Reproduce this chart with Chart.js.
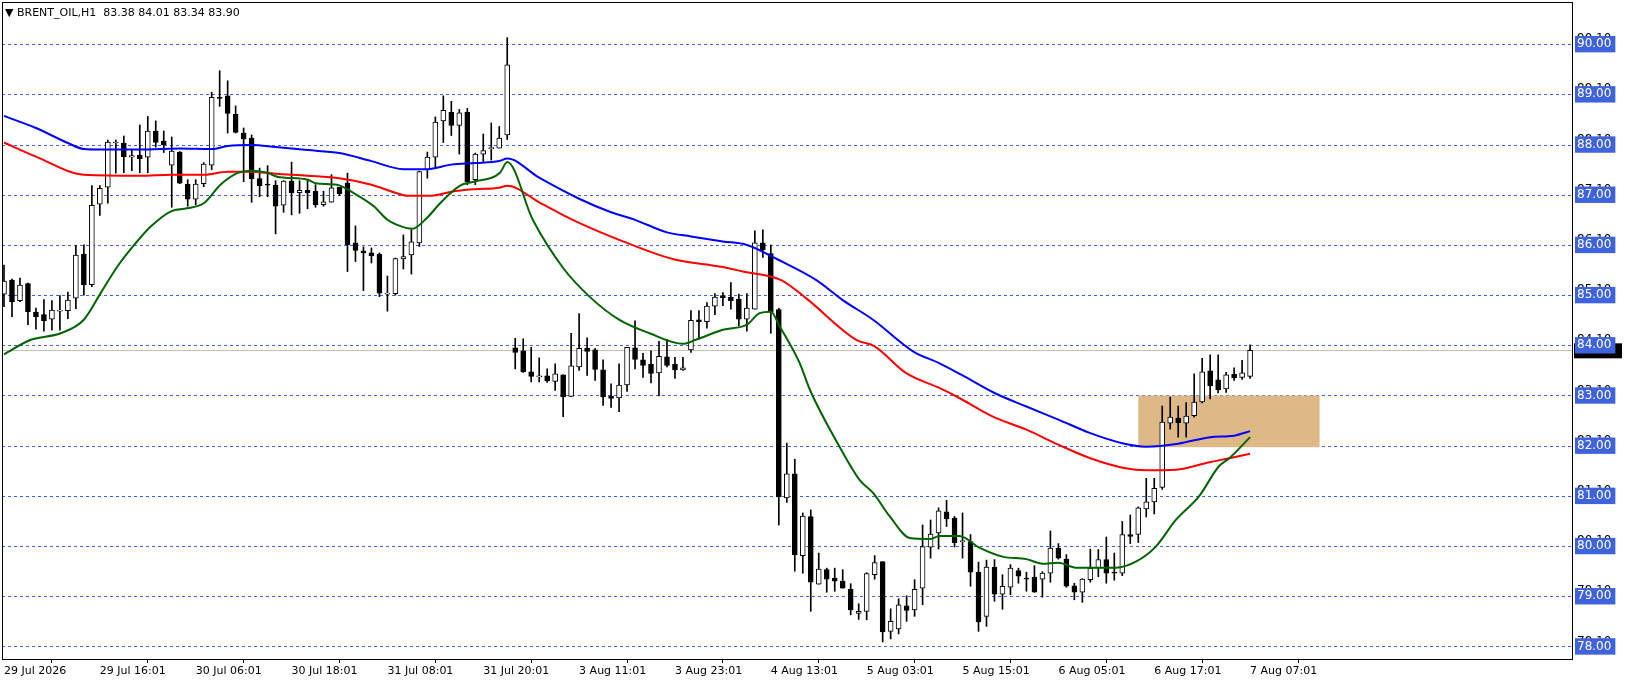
<!DOCTYPE html>
<html><head><meta charset="utf-8">
<script src="https://cdn.jsdelivr.net/npm/chart.js@4"></script>
<style>html,body{margin:0;padding:0;background:#fff}canvas{display:block}</style>
</head><body>
<canvas id="c" width="1626" height="686"></canvas>
<script>
const titleText = "\u25BC BRENT_OIL,H1  83.38 84.01 83.34 83.90";
const openP = [85.02,85.30,84.89,85.23,84.66,84.61,84.52,84.68,84.69,84.94,85.82,85.21,86.81,87.15,88.03,88.03,87.75,87.79,87.75,88.27,88.07,87.59,87.85,87.21,86.91,87.22,87.59,88.94,88.97,88.60,88.23,88.13,87.32,87.21,87.19,86.79,87.27,87.04,87.09,87.07,86.80,86.85,87.15,87.23,86.04,85.88,85.84,85.82,85.02,85.03,85.72,85.80,86.04,87.50,87.75,88.47,88.64,88.38,88.64,87.30,87.81,87.92,87.93,88.19,83.95,83.89,83.47,83.37,83.39,83.28,83.41,82.98,83.57,83.94,83.91,83.51,82.99,82.95,83.21,83.95,83.71,83.62,83.45,83.77,83.62,83.51,83.91,84.51,84.47,84.78,84.99,84.96,84.92,84.52,84.72,86.04,85.83,84.71,80.96,81.44,79.81,80.59,79.24,79.53,79.36,79.30,79.14,78.66,78.70,79.43,79.69,78.30,78.35,78.81,78.73,79.16,79.98,80.26,80.68,80.56,80.09,80.09,79.48,78.60,79.58,79.04,79.18,79.51,79.36,79.38,79.34,79.46,79.96,79.74,79.21,79.08,79.33,79.56,79.73,79.48,79.46,80.23,80.23,80.74,80.88,81.17,82.45,82.55,82.45,82.60,82.87,83.49,83.31,83.13,83.42,83.36,83.38];
const highP = [85.60,85.32,85.34,85.24,84.74,84.91,84.89,84.99,85.06,85.99,86.00,87.18,87.18,88.09,88.09,88.17,87.89,88.39,88.56,88.47,88.27,88.15,87.86,87.30,87.30,87.64,89.04,89.47,89.27,88.77,88.33,88.19,87.53,87.58,87.28,87.28,87.65,87.28,87.28,87.20,87.07,87.40,87.15,87.43,86.38,85.96,85.94,85.84,85.38,85.74,86.20,86.30,87.47,87.85,88.55,88.97,88.86,88.70,88.72,87.83,88.21,88.43,88.36,90.13,84.14,84.13,83.96,83.75,83.53,83.63,83.41,84.24,84.63,84.15,83.94,83.71,83.23,83.63,83.96,84.49,83.84,83.89,84.08,84.12,83.76,83.76,84.69,84.69,84.85,85.03,85.05,85.25,85.02,85.03,86.28,86.30,86.00,84.74,82.05,81.73,80.66,80.72,79.86,79.56,79.56,79.53,79.25,78.85,79.47,79.81,79.69,78.75,78.95,79.01,79.33,80.42,80.52,80.76,80.91,80.59,80.66,80.23,79.68,79.72,79.73,79.43,79.63,79.56,79.48,79.61,79.49,80.30,80.05,79.83,79.26,79.35,79.94,79.93,80.18,79.86,80.49,80.62,80.78,81.35,81.35,82.79,82.97,82.79,82.86,83.43,83.74,83.81,83.81,83.46,83.55,83.70,84.01];
const lowP = [84.77,84.57,84.87,84.41,84.32,84.28,84.30,84.30,84.53,84.73,85.00,85.17,86.59,86.83,87.43,87.44,87.48,87.44,87.44,87.95,87.84,86.75,87.22,86.77,86.80,87.16,87.50,88.76,88.23,88.23,87.26,86.85,86.96,86.96,86.22,86.65,86.60,86.63,86.72,86.75,86.77,86.85,86.98,85.47,85.67,85.09,85.64,84.97,84.68,85.00,85.52,85.42,85.97,87.33,87.55,88.04,88.18,87.81,87.20,87.20,87.66,87.69,87.93,88.10,83.53,83.46,83.27,83.27,83.26,83.10,82.58,82.98,83.50,83.40,83.30,82.80,82.76,82.68,83.08,83.53,83.36,83.25,82.99,83.57,83.34,83.50,83.86,84.12,84.34,84.61,84.79,84.72,84.39,84.28,84.72,85.75,84.24,80.42,80.87,79.50,79.46,78.70,79.24,79.08,79.10,79.16,78.63,78.54,78.53,79.34,78.09,78.15,78.25,78.50,78.60,78.83,79.76,79.94,80.39,79.98,79.76,79.20,78.30,78.40,78.90,78.74,79.03,79.26,79.10,79.08,78.98,79.28,79.74,79.18,78.93,78.88,79.28,79.39,79.26,79.32,79.41,80.05,80.07,80.58,80.64,81.13,82.33,82.17,82.17,82.57,82.85,82.93,83.05,83.06,83.30,83.32,83.34];
const closeP = [85.28,84.87,85.20,84.67,84.57,84.49,84.70,84.70,84.90,85.80,85.21,86.79,87.13,88.05,88.04,87.76,87.78,87.72,88.27,88.04,87.99,87.87,87.23,86.91,87.21,87.61,88.94,88.92,88.62,88.24,88.11,87.32,87.18,87.19,86.77,87.27,87.04,87.09,87.04,86.80,86.86,87.14,87.02,86.00,85.89,85.84,85.78,85.04,85.02,85.73,85.77,86.06,87.46,87.75,88.45,88.68,88.38,88.63,87.26,87.81,87.88,87.93,88.13,89.59,83.86,83.47,83.38,83.38,83.29,83.43,82.97,83.59,83.94,83.88,83.52,82.97,82.94,83.21,83.96,83.72,83.60,83.44,83.78,83.60,83.51,83.55,84.50,84.47,84.78,84.96,84.95,84.89,84.52,84.74,86.04,85.90,84.67,80.98,81.44,79.83,80.60,79.28,79.54,79.34,79.30,79.16,78.73,78.70,79.45,79.67,78.29,78.50,78.83,78.72,79.14,79.99,80.24,80.70,80.54,80.07,80.09,79.48,78.49,79.58,79.04,79.20,79.56,79.40,79.34,79.08,79.46,79.96,79.76,79.20,79.08,79.34,79.56,79.73,79.46,79.46,80.23,80.19,80.76,80.88,81.15,82.47,82.57,82.46,82.59,82.87,83.47,83.19,83.11,83.41,83.35,83.45,83.90];

const blueIdx = [0,4,8,10,12,17,22,26,28,31,34,38,42,46,50,53,56,59,62,63,67,72,76,79,83,86,90,93,97,101.7,105,108.8,113.8,117,120,124,128,132,136,140,143,147,151,154,156];
const blueVal = [88.57,88.33,88.03,87.91,87.90,87.90,87.92,87.91,87.97,87.99,87.95,87.89,87.83,87.67,87.51,87.51,87.60,87.63,87.67,87.72,87.34,86.92,86.65,86.50,86.25,86.17,86.07,86.00,85.70,85.30,84.90,84.51,83.88,83.65,83.40,83.05,82.78,82.52,82.25,82.05,81.98,82.04,82.17,82.20,82.29];
const redIdx = [0,4,10,17,21,25,28,31,34,38,42,46,49,50.5,53.5,56,59,62,63,67,71.2,77.5,83.7,90,92.5,97.3,100.4,106.7,109,112.9,117.1,119.6,123.8,128,132,136,140.4,143,146.7,150.9,153.4,156];
const redVal = [88.04,87.76,87.40,87.38,87.40,87.40,87.46,87.46,87.42,87.38,87.33,87.20,87.04,86.98,86.98,87.06,87.11,87.14,87.18,86.85,86.50,86.07,85.72,85.56,85.47,85.30,84.94,84.11,83.98,83.45,83.15,82.95,82.58,82.32,82.02,81.75,81.55,81.51,81.52,81.67,81.75,81.84];
const greenIdx = [0,3.35,7.1,10,12.1,14.2,16.3,18.4,20.9,22.9,25,27.1,29.2,30.85,32.9,34.2,38,39,41.7,43.8,46.3,48,49.2,51.1,52.9,54.6,57.1,58.8,62.1,63,66.2,70,73.3,77,80.8,85,86.6,90,93,94.6,96,97.1,99.6,100.9,104.6,107.1,108.8,110.9,113.4,115.9,117.1,119.6,122.1,125,128,130,132,134.2,139.2,141.7,144.2,146.7,149.6,152.1,153.4,156];
const greenVal = [83.82,84.11,84.24,84.51,85.04,85.57,86.00,86.37,86.67,86.73,86.83,87.20,87.43,87.48,87.44,87.36,87.30,87.23,87.20,87.03,86.77,86.50,86.40,86.32,86.53,86.83,87.18,87.26,87.44,87.65,86.50,85.54,84.97,84.51,84.24,84.03,84.11,84.31,84.41,84.64,84.67,84.38,83.65,83.11,81.98,81.32,81.06,80.59,80.16,80.14,80.20,80.20,79.97,79.79,79.74,79.65,79.67,79.57,79.57,79.69,79.99,80.52,80.99,81.59,81.75,82.17];

const xTickIdx = [0,12,24,36,48,60,72,84,96,108,120,132,144,156];
const xTickLabels = ["29 Jul 2026","29 Jul 16:01","30 Jul 06:01","30 Jul 18:01","31 Jul 08:01","31 Jul 20:01","3 Aug 11:01","3 Aug 23:01","4 Aug 13:01","5 Aug 03:01","5 Aug 15:01","6 Aug 05:01","6 Aug 17:01","7 Aug 07:01"];
const yTickVals = [78,79,80,81,82,83,84,85,86,87,88,89,90];
const bidPrice = 83.90;
const zoneX = [142, 164.7];
const zoneY = [81.97, 83.0];

const idx = openP.map((_, i) => i);
const pts = (xs, ys) => xs.map((x, k) => ({x, y: ys[k]}));

const overlay = {
  id: 'overlay',
  beforeDraw(chart) {
    const c = chart.ctx, ys = chart.scales.y, a = chart.chartArea;
    c.save();
    c.fillStyle = '#fff'; c.fillRect(0, 0, chart.width, chart.height);
    c.font = '12px "DejaVu Sans"'; c.fillStyle = '#000'; c.textBaseline = 'middle';
    yTickVals.forEach(v => { c.fillText((v + 0.1).toFixed(2), a.right + 5, ys.getPixelForValue(v) - 5); });
    const by = ys.getPixelForValue(bidPrice);
    c.fillStyle = '#000'; c.fillRect(a.right + 2, by - 7, 48, 15);
    c.fillStyle = '#fff'; c.fillText(bidPrice.toFixed(2), a.right + 5, by);
    c.restore();
  },
  beforeDatasetsDraw(chart) {
    const c = chart.ctx, xs = chart.scales.x, ys = chart.scales.y, a = chart.chartArea;
    c.save();
    c.beginPath(); c.rect(a.left, a.top, a.right - a.left, a.bottom - a.top); c.clip();
    c.strokeStyle = '#3f63dc'; c.lineWidth = 1; c.setLineDash([3, 3]);
    yTickVals.forEach(v => { const y = Math.round(ys.getPixelForValue(v)) + 0.5; c.beginPath(); c.moveTo(a.left, y); c.lineTo(a.right, y); c.stroke(); });
    c.setLineDash([]);
    c.strokeStyle = '#c0c0c0';
    const by = Math.round(ys.getPixelForValue(bidPrice)) + 0.5;
    c.beginPath(); c.moveTo(a.left, by); c.lineTo(a.right, by); c.stroke();
    const x1 = xs.getPixelForValue(zoneX[0]), x2 = xs.getPixelForValue(zoneX[1]);
    const y1 = ys.getPixelForValue(zoneY[1]), y2 = ys.getPixelForValue(zoneY[0]);
    c.fillStyle = '#deb887'; c.fillRect(x1, y1, x2 - x1, y2 - y1);
    c.restore();
  },
  afterDraw(chart) {
    const c = chart.ctx, a = chart.chartArea;
    c.save();
    c.strokeStyle = '#000'; c.lineWidth = 1;
    c.strokeRect(a.left + 0.5, a.top + 0.5, a.right - a.left, a.bottom - a.top);
    c.fillStyle = '#000'; c.font = '11px "DejaVu Sans"'; c.textBaseline = 'middle';
    c.fillText(titleText, 5, 13);
    c.restore();
  }
};

new Chart(document.getElementById('c'), {
  data: {
    datasets: [
      { type: 'line', label: 'MA fast', data: pts(greenIdx, greenVal), borderColor: '#006400', borderWidth: 2, pointRadius: 0, cubicInterpolationMode: 'monotone', order: 0 },
      { type: 'line', label: 'MA mid', data: pts(redIdx, redVal), borderColor: '#ff0000', borderWidth: 2, pointRadius: 0, cubicInterpolationMode: 'monotone', order: 0 },
      { type: 'line', label: 'MA slow', data: pts(blueIdx, blueVal), borderColor: '#0000ff', borderWidth: 2, pointRadius: 0, cubicInterpolationMode: 'monotone', order: 0 },
      { type: 'bar', label: 'body', data: idx.map(i => ({x: i, y: [openP[i], closeP[i]]})),
        backgroundColor: idx.map(i => closeP[i] >= openP[i] ? '#ffffff' : '#000000'),
        borderColor: '#000', borderWidth: 1, borderSkipped: false, barThickness: 5, minBarLength: 1, grouped: false, order: 1 },
      { type: 'bar', label: 'wick', data: idx.map(i => ({x: i, y: [lowP[i], highP[i]]})),
        backgroundColor: '#000', borderWidth: 0, barThickness: 1, grouped: false, order: 2 }
    ]
  },
  options: {
    responsive: false, animation: false, devicePixelRatio: 1,
    layout: { padding: { left: 2, top: 2, right: 4, bottom: 0 } },
    plugins: { legend: { display: false }, tooltip: { enabled: false }, title: { display: false } },
    scales: {
      x: {
        type: 'linear', min: -0.25, max: 196.3, offset: false,
        afterBuildTicks: s => { s.ticks = xTickIdx.map(v => ({ value: v })); },
        afterFit: s => { s.height = 27; s.paddingLeft = 0; s.paddingRight = 0; },
        ticks: { autoSkip: false, maxRotation: 0, align: 'start', color: '#000', font: { family: 'DejaVu Sans', size: 11 }, padding: 2,
          callback: v => { const k = xTickIdx.indexOf(v); return k >= 0 ? xTickLabels[k] : ''; } },
        grid: { drawOnChartArea: false, drawTicks: true, tickLength: 4, color: '#000' },
        border: { color: '#000' }
      },
      y: {
        type: 'linear', position: 'right', min: 77.75, max: 90.84,
        afterBuildTicks: s => { s.ticks = yTickVals.map(v => ({ value: v })); },
        afterFit: s => { s.width = 50; s.paddingTop = 0; s.paddingBottom = 0; },
        ticks: { color: '#fff', font: { family: 'DejaVu Sans', size: 12 }, padding: 5,
          showLabelBackdrop: true, backdropColor: '#3f63dc', backdropPadding: { top: 1, bottom: 1, left: 2, right: 4 },
          callback: v => v.toFixed(2) },
        grid: { drawOnChartArea: false, drawTicks: false },
        border: { color: '#000' }
      }
    }
  },
  plugins: [overlay]
});
</script>
</body></html>
